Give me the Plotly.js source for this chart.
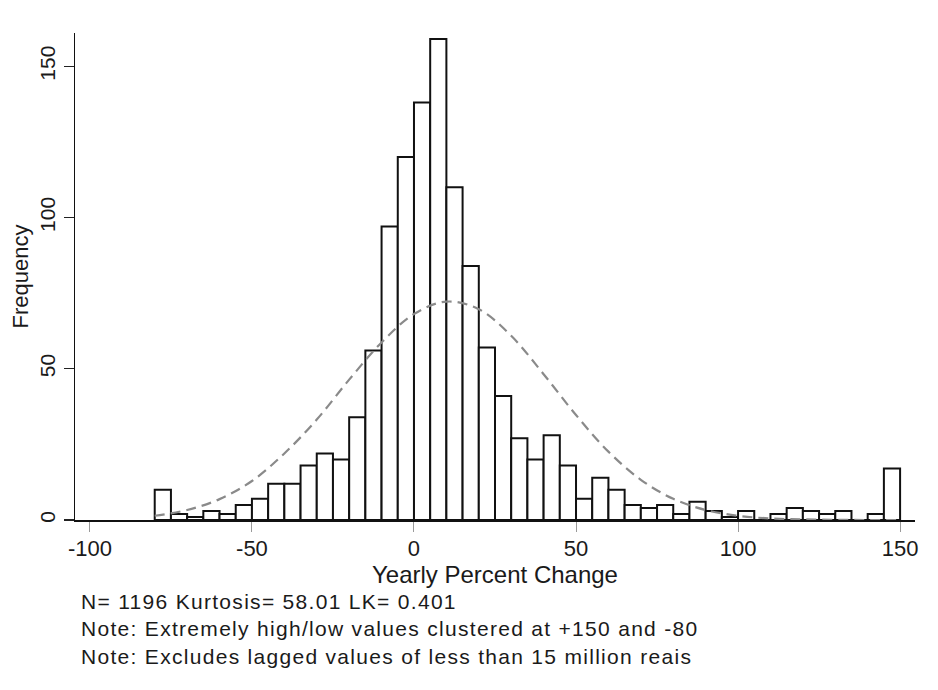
<!DOCTYPE html>
<html>
<head>
<meta charset="utf-8">
<script src="https://cdn.plot.ly/plotly-3.0.1.min.js"></script>
<style>
html,body{margin:0;padding:0;background:#fff;}
#chart{width:938px;height:690px;}
#chart .annotation-text{letter-spacing:1.3px;}
</style>
</head>
<body>
<div id="chart"></div>
<script>
// Histogram bins (left edges, width 5) and their frequencies
const binLeft = [-80,-75,-70,-65,-60,-55,-50,-45,-40,-35,-30,-25,-20,-15,-10,-5,0,5,10,15,20,25,30,35,40,45,50,55,60,65,70,75,80,85,90,95,100,105,110,115,120,125,130,135,140,145];
const counts  = [10,2,1,3,2,5,7,12,12,18,22,20,34,56,97,120,138,159,110,84,57,41,27,20,28,18,7,14,10,5,4,5,2,6,3,1,3,0,2,4,3,2,3,0,2,17];
const binWidth = 5;

// Normal density overlay
const curveX = [-80,-70,-60,-50,-40,-30,-20,-10,0,10,20,30,40,50,60,70,80,90,100,110,120,130,140,150];
const curveY = [1.4,3.3,6.9,12.9,22.0,33.2,46.4,58.7,68.1,72.2,69.7,60.9,48.2,34.7,22.6,13.3,7.0,3.3,1.4,0.5,0.2,0.05,0,0];

const xTicks = [-100,-50,0,50,100,150];
const yTicks = [0,50,100,150];

const notes = [
  "N= 1196 Kurtosis= 58.01 LK= 0.401",
  "Note: Extremely high/low values clustered at +150 and -80",
  "Note: Excludes lagged values of less than 15 million reais"
];

const FONT = "Liberation Sans, Arial, sans-serif";
const TXT = "#1a1a1a";

const M = {l:75, r:23, t:33, b:170};
const plotH = 690 - M.t - M.b;
const plotW = 938 - M.l - M.r;
function pyToPaper(py){ return (690 - M.b - py) / plotH; }
function pxToPaper(px){ return (px - M.l) / plotW; }

const traces = [
  {
    type: "bar",
    x: binLeft,
    y: counts,
    width: binWidth,
    offset: 0,
    marker: {color: "#ffffff", line: {color: "#111111", width: 2}},
    hoverinfo: "x+y",
    showlegend: false
  },
  {
    type: "scatter",
    mode: "lines",
    x: curveX,
    y: curveY,
    line: {color: "#8a8a8a", width: 2.2, dash: "10px,6px", shape: "spline", smoothing: 1},
    hoverinfo: "skip",
    showlegend: false
  }
];

const annotations = [{
  text: notes.join("<br>"),
  xref: "paper", yref: "paper",
  x: pxToPaper(79), y: pyToPaper(629),
  xanchor: "left", yanchor: "middle", align: "left",
  showarrow: false,
  font: {family: FONT, size: 21, color: TXT}
}];

const layout = {
  width: 938, height: 690,
  margin: M,
  paper_bgcolor: "#ffffff",
  plot_bgcolor: "#ffffff",
  font: {family: FONT, color: TXT},
  bargap: 0,
  showlegend: false,
  xaxis: {
    range: [-104.6, 154.6],
    tickvals: xTicks,
    ticktext: xTicks.map(String),
    ticks: "outside", ticklen: 10, tickwidth: 1, tickcolor: "#9a9a9a",
    ticklabelstandoff: -2,
    showline: true, linecolor: "#111111", linewidth: 1.5,
    showgrid: false, zeroline: false,
    tickfont: {family: FONT, size: 22, color: TXT},
    title: {text: "Yearly Percent Change", font: {family: FONT, size: 24, color: TXT}, standoff: 1}
  },
  yaxis: {
    range: [0, 161],
    tickvals: yTicks,
    ticktext: yTicks.map(String),
    tickangle: -90,
    ticks: "outside", ticklen: 10, tickwidth: 1.2, tickcolor: "#222222",
    ticklabelstandoff: 0,
    showline: true, linecolor: "#111111", linewidth: 1.5,
    showgrid: false, zeroline: false,
    tickfont: {family: FONT, size: 21, color: TXT},
    title: {text: "Frequency", font: {family: FONT, size: 22, color: TXT}, standoff: 1}
  },
  annotations: annotations
};

Plotly.newPlot("chart", traces, layout, {displayModeBar: false, staticPlot: true});
</script>
</body>
</html>
